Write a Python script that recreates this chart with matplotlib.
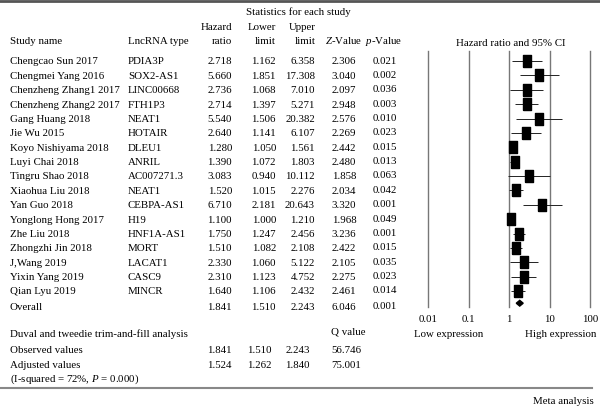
import matplotlib
matplotlib.use("Agg")
import matplotlib.pyplot as plt
import numpy as np

# table data
studies = ["Chengcao Sun 2017", "Chengmei Yang 2016", "Chenzheng Zhang1 2017",
           "Chenzheng Zhang2 2017", "Gang Huang 2018", "Jie Wu 2015",
           "Koyo Nishiyama 2018", "Luyi Chai 2018", "Tingru Shao 2018",
           "Xiaohua Liu 2018", "Yan Guo 2018", "Yonglong Hong 2017",
           "Zhe Liu 2018", "Zhongzhi Jin 2018", "J,Wang 2019",
           "Yixin Yang 2019", "Qian Lyu 2019"]
lncrna = ["PDIA3P", "SOX2-AS1", "LINC00668", "FTH1P3", "NEAT1", "HOTAIR",
          "DLEU1", "ANRIL", "AC007271.3", "NEAT1", "CEBPA-AS1", "H19",
          "HNF1A-AS1", "MORT", "LACAT1", "CASC9", "MINCR"]
hazard = [2.718, 5.660, 2.736, 2.714, 5.540, 2.640, 1.280, 1.390, 3.083,
          1.520, 6.710, 1.100, 1.750, 1.510, 2.330, 2.310, 1.640]
lower = [1.162, 1.851, 1.068, 1.397, 1.506, 1.141, 1.050, 1.072, 0.940,
         1.015, 2.181, 1.000, 1.247, 1.082, 1.060, 1.123, 1.106]
upper = [6.358, 17.308, 7.010, 5.271, 20.382, 6.107, 1.561, 1.803, 10.112,
         2.276, 20.643, 1.210, 2.456, 2.108, 5.122, 4.752, 2.432]
zvalue = [2.306, 3.040, 2.097, 2.948, 2.576, 2.269, 2.442, 2.480, 1.858,
          2.034, 3.320, 1.968, 3.236, 2.422, 2.105, 2.275, 2.461]
pvalue = [0.021, 0.002, 0.036, 0.003, 0.010, 0.023, 0.015, 0.013, 0.063,
          0.042, 0.001, 0.049, 0.001, 0.015, 0.035, 0.023, 0.014]
overall = [1.841, 1.510, 2.243, 6.046, 0.001]

# trim-and-fill
tf_labels = ["Observed values", "Adjusted values"]
tf_hr = [1.841, 1.524]
tf_lower = [1.510, 1.262]
tf_upper = [2.243, 1.840]
tf_q = [56.746, 75.001]

axis_ticks = [0.01, 0.1, 1, 10, 100]

plt.rcParams["font.family"] = ["Liberation Serif", "DejaVu Serif"]
plt.rcParams["mathtext.fontset"] = "custom"
plt.rcParams["mathtext.rm"] = "Liberation Serif"
plt.rcParams["mathtext.it"] = "Liberation Serif:italic"

W, H = 600, 410
fig = plt.figure(figsize=(6, 4.1), dpi=100)
fs = 7.8


def txt(x, y, s, ha="left", **kw):
    fig.text(x / W, 1 - y / H, s, ha=ha, va="center", fontsize=fs, **kw)


def row_y(i):
    return 62 + 14.375 * i


# header
fig.add_artist(plt.Line2D([0, 1], [1 - 2 / H, 1 - 2 / H], color="#555555", lw=2))
txt(298, 12, "Statistics for each study", ha="center")
txt(10, 41, "Study name")
txt(128, 41, "LncRNA type")
txt(232, 27, "Hazard", ha="right")
txt(232, 41, "ratio", ha="right")
txt(276, 27, "Lower", ha="right")
txt(276, 41, "limit", ha="right")
txt(316, 27, "Upper", ha="right")
txt(316, 41, "limit", ha="right")
txt(344, 41, "$Z$-Value", ha="center")
txt(384, 41, "$p$-Value", ha="center")
txt(511, 43, "Hazard ratio and 95% CI", ha="center")

# table rows
for i in range(len(studies)):
    y = row_y(i)
    txt(10, y, studies[i])
    txt(128, y, lncrna[i])
    txt(232, y, "%.3f" % hazard[i], ha="right")
    txt(276, y, "%.3f" % lower[i], ha="right")
    txt(315, y, "%.3f" % upper[i], ha="right")
    txt(344, y, "%.3f" % zvalue[i], ha="center")
    txt(385, y - 1, "%.3f" % pvalue[i], ha="center")

ov_row = 16.85
y = row_y(17.1)
txt(10, y, "Overall")
txt(232, y, "%.3f" % overall[0], ha="right")
txt(276, y, "%.3f" % overall[1], ha="right")
txt(315, y, "%.3f" % overall[2], ha="right")
txt(344, y, "%.3f" % overall[3], ha="center")
txt(385, y - 1, "%.3f" % overall[4], ha="center")

# trim-and-fill section
txt(10, 334, "Duval and tweedie trim-and-fill analysis")
txt(331, 332, "Q value")
for k in range(len(tf_labels)):
    y = 351 + 15 * k
    txt(10, y, tf_labels[k])
    txt(232, y, "%.3f" % tf_hr[k], ha="right")
    txt(272, y, "%.3f" % tf_lower[k], ha="right")
    txt(310, y, "%.3f" % tf_upper[k], ha="right")
    txt(331, y, "%.3f" % tf_q[k])
txt(10, 379, "(I-squared = 72%, $P$ = 0.000)")

txt(449, 335, "Low expression", ha="center")
txt(561, 335, "High expression", ha="center")

fig.add_artist(plt.Line2D([0, 592 / W], [1 - 389 / H, 1 - 389 / H], color="#888888", lw=1.5))
txt(594, 402, "Meta analysis", ha="right")

# forest plot
top, bot = 52, 308
ax = fig.add_axes([428 / W, 1 - bot / H, 162 / W, (bot - top) / H])
ax.set_xscale("log")
ax.set_xlim(0.01, 100)
ax.set_ylim((bot - 62) / 14.375, (top - 62) / 14.375)
for t in axis_ticks:
    ax.axvline(t, color="#777777", lw=1, clip_on=False)

rows = np.arange(len(studies))
ax.hlines(rows, lower, upper, color="#222222", lw=0.7)
box = [(-0.36, -0.5), (0.36, -0.5), (0.36, 0.5), (-0.36, 0.5), (-0.36, -0.5)]
ax.plot(hazard, rows, ls="none", marker=box, markersize=8.2, color="black")

h = 0.2
ax.fill([overall[1], overall[0], overall[2], overall[0]],
        [ov_row, ov_row - h, ov_row, ov_row + h], color="black")

ax.set_xticks(axis_ticks)
ax.set_xticklabels(["0.01", "0.1", "1", "10", "100"])
ax.minorticks_off()
ax.tick_params(axis="x", length=0, pad=5, labelsize=fs)
ax.set_yticks([])
for s in ax.spines.values():
    s.set_visible(False)
ax.patch.set_alpha(0)

fig.savefig("out.png", dpi=100)
